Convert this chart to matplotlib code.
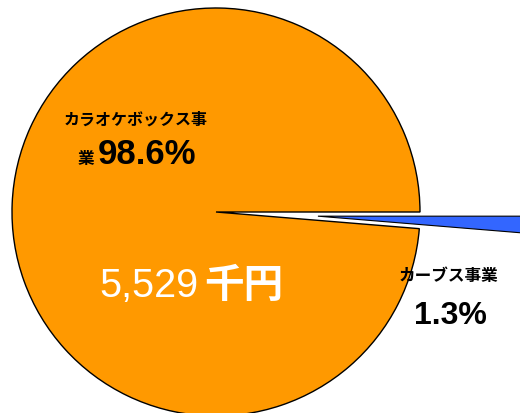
import matplotlib
matplotlib.use("Agg")
import matplotlib.pyplot as plt

plt.rcParams['font.family'] = ['Noto Sans CJK JP', 'DejaVu Sans']

categories = ["カラオケボックス事業", "カーブス事業"]
shares = [98.6, 1.3]
total_label = "5,529"
colors = ["#FF9900", "#3366FF"]

W, H = 520, 413
cx, cy, R = 216, 212, 204  # pixel geometry of pie


def px(x, y):
    return ((x - cx) / R, (cy - y) / R)


fig = plt.figure(figsize=(W / 100, H / 100), dpi=100)
ax = fig.add_axes([0, 0, 1, 1])

wedges, _ = ax.pie(shares, colors=colors, startangle=0, counterclock=True,
                   explode=[0, 0.5], radius=1.0,
                   wedgeprops=dict(edgecolor='black', linewidth=1.0))
wedges[1].set_radius(1.4)
wedges[1].set_linewidth(0.8)
ax.set_xlim(-cx / R, (W - cx) / R)
ax.set_ylim((cy - H) / R, cy / R)
ax.set_aspect('equal')
ax.axis('off')

# Large label
name0 = categories[0]
ax.text(*px(136, 120), name0[:-1], ha='center', va='center',
        fontsize=11.5, fontweight='bold', color='black')
ax.text(*px(78, 164), name0[-1], ha='left', va='baseline',
        fontsize=12, fontweight='bold', color='black')
ax.text(*px(98, 164), f"{shares[0]}%", ha='left', va='baseline',
        fontsize=25, fontweight='bold', color='black',
        family=['Liberation Sans', 'DejaVu Sans'])

# Total
ax.text(*px(99, 297), total_label, ha='left', va='baseline',
        fontsize=28.5, color='white', family=['Liberation Sans', 'DejaVu Sans'])
ax.text(*px(204, 297), "千円", ha='left', va='baseline',
        fontsize=28.5, fontweight='bold', color='white')

# Small label
ax.text(*px(448, 276), categories[1], ha='center', va='center',
        fontsize=12, fontweight='bold', color='black')
ax.text(*px(450, 324), f"{shares[1]}%", ha='center', va='baseline',
        fontsize=23, fontweight='bold', color='black',
        family=['Liberation Sans', 'DejaVu Sans'])

fig.savefig("out.png", dpi=100)
